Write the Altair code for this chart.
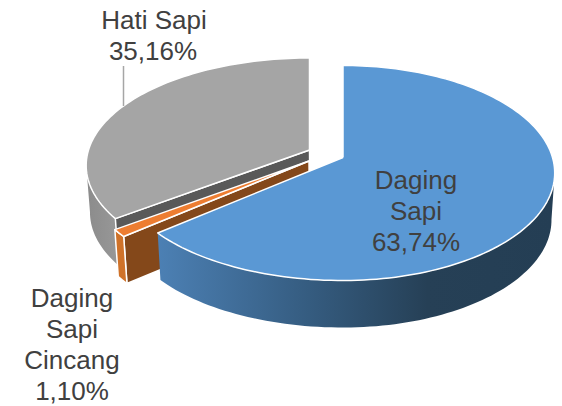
import math
import altair as alt
import pandas as pd

categories = ["Daging Sapi", "Daging Sapi Cincang", "Hati Sapi"]
shares = [63.74, 1.10, 35.16]

# projected-disc parameters (perspective view of a tilted pie)
RX, RY, K, DEPTH, VANISH = 221.0, 105.3, 0.144, 47.0, 340.0
RX_BLUE_RIGHT = 209.5
PIVOT = {"blue": (343, 156.5), "orange": (309, 160), "gray": (309.5, 149)}

b0 = 0.0
b1 = shares[0] * 3.6
o1 = b1 + shares[1] * 3.6
g1 = 360.0


def rim(p, deg):
    t = math.radians(deg)
    w = 1 + K * math.cos(t)
    s = math.sin(t)
    r = RX_BLUE_RIGHT if s > 0 else RX
    return (p[0] + r * s / w, p[1] - RY * math.cos(t) / w)


def low(pt):
    return (pt[0] + (VANISH - pt[0]) * 0.015, pt[1] + DEPTH)


def arc(p, a, b):
    n = max(2, int(abs(b - a) / 1.5))
    return [rim(p, a + (b - a) * i / n) for i in range(n + 1)]


def wedge(p, a, b):
    return [p] + arc(p, a, b) + [p]


def wall(p, a, b):
    top = arc(p, a, b)
    return top + [low(q) for q in reversed(top)] + [top[0]]


def quad(p, a):
    r = rim(p, a)
    return [p, r, low(r), low(p), p]


X = alt.Scale(domain=[8, 554])
Y = alt.Scale(domain=[404, 8])


def shape(points, fill, stroke="transparent", sw=0):
    df = pd.DataFrame({"x": [q[0] for q in points], "y": [q[1] for q in points], "i": range(len(points))})
    return (
        alt.Chart(df)
        .mark_line(fill=fill, stroke=stroke, strokeWidth=sw, clip=True, strokeJoin="round")
        .encode(
            x=alt.X("x:Q", scale=X, axis=None),
            y=alt.Y("y:Q", scale=Y, axis=None),
            order="i:Q",
        )
    )


blue_grad = alt.Gradient(
    gradient="linear", x1=0, x2=1, y1=0, y2=0,
    stops=[
        alt.GradientStop(color="#4c80b4", offset=0),
        alt.GradientStop(color="#355c80", offset=0.38),
        alt.GradientStop(color="#264056", offset=0.68),
        alt.GradientStop(color="#243e54", offset=1),
    ],
)
gray_grad = alt.Gradient(
    gradient="linear", x1=0, x2=1, y1=0, y2=0,
    stops=[
        alt.GradientStop(color="#8b8b8b", offset=0),
        alt.GradientStop(color="#989898", offset=1),
    ],
)

WHITE = "#ffffff"
pg, po, pb = PIVOT["gray"], PIVOT["orange"], PIVOT["blue"]

layers = [
    shape(wall(pg, o1, 262), gray_grad),
    shape(quad(pg, o1), "#595959", WHITE, 1.5),
    shape(wedge(pg, o1, g1), "#a5a5a5", WHITE, 1.5),
    shape(quad(po, b1), "#84481a", WHITE, 1.5),
    shape(wall(po, b1, o1), "#cf7229", WHITE, 1.5),
    shape(wedge(po, b1, o1), "#ed7d31", WHITE, 1.5),
    shape(wall(pb, 98, b1), blue_grad),
    shape(wedge(pb, b0, b1), "#5a98d4", WHITE, 1.5),
]

leader_x = [123.5]
leader_y = [65]
leader_y2 = [105]
leader = (
    alt.Chart(pd.DataFrame({"x": leader_x, "y": leader_y, "y2": leader_y2}))
    .mark_rule(color="#a6a6a6", strokeWidth=1.5)
    .encode(x=alt.X("x:Q", scale=X, axis=None), y=alt.Y("y:Q", scale=Y, axis=None), y2="y2:Q")
)

label_text = ["Hati Sapi", "35,16%", "Daging", "Sapi", "63,74%",
              "Daging", "Sapi", "Cincang", "1,10%"]
label_x = [154, 153, 416, 416, 416, 72, 72, 72, 72]
label_y = [28, 59, 188, 219, 250, 306, 337, 368, 399]
labels = (
    alt.Chart(pd.DataFrame({"t": label_text, "x": label_x, "y": label_y}))
    .mark_text(font="Liberation Sans", fontSize=26, color="#404040", align="center", baseline="alphabetic")
    .encode(x=alt.X("x:Q", scale=X, axis=None), y=alt.Y("y:Q", scale=Y, axis=None), text="t:N")
)

chart = (
    alt.layer(*layers, leader, labels)
    .properties(width=546, height=396, padding=0, background="#ffffff")
    .configure_view(stroke=None)
)
chart.save("out.html", embed_options={"renderer": "svg", "actions": False})
